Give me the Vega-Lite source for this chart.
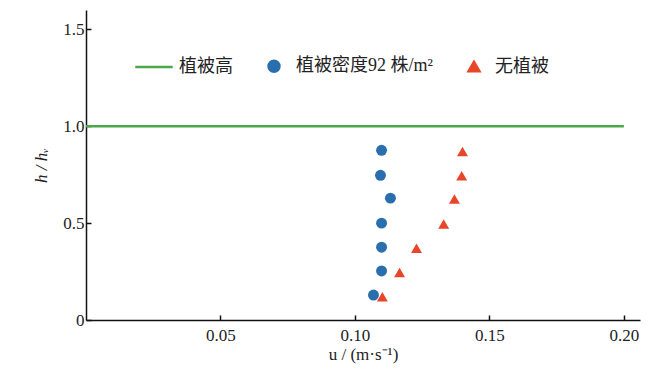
{
  "$schema": "https://vega.github.io/schema/vega-lite/v6.json",
  "width": 554,
  "height": 310,
  "autosize": "none",
  "padding": {"left": 86, "top": 10, "right": 10, "bottom": 57},
  "background": "white",
  "config": {
    "view": {"stroke": null},
    "font": "Liberation Serif",
    "axis": {"grid": false, "domainColor": "#111", "domainWidth": 1.5, "tickColor": "#111", "tickWidth": 1.5, "tickSize": -5, "labelFont": "Liberation Serif", "labelFontSize": 17, "labelColor": "#222", "titleFont": "Liberation Serif", "titleFontSize": 17, "titleFontWeight": "normal", "titleColor": "#222"}
  },
  "data": {"values": [
    {"series": "植被高", "u": 0, "u2": 0.2, "h": 1.0},
    {"series": "植被密度92 株/m²", "u": 0.1099, "h": 0.876},
    {"series": "植被密度92 株/m²", "u": 0.1095, "h": 0.747},
    {"series": "植被密度92 株/m²", "u": 0.1132, "h": 0.629},
    {"series": "植被密度92 株/m²", "u": 0.1099, "h": 0.5},
    {"series": "植被密度92 株/m²", "u": 0.1099, "h": 0.376},
    {"series": "植被密度92 株/m²", "u": 0.1099, "h": 0.253},
    {"series": "植被密度92 株/m²", "u": 0.1069, "h": 0.129},
    {"series": "无植被", "u": 0.1400, "h": 0.87},
    {"series": "无植被", "u": 0.1397, "h": 0.745},
    {"series": "无植被", "u": 0.1370, "h": 0.625},
    {"series": "无植被", "u": 0.1330, "h": 0.495},
    {"series": "无植被", "u": 0.1229, "h": 0.37},
    {"series": "无植被", "u": 0.1166, "h": 0.245},
    {"series": "无植被", "u": 0.1102, "h": 0.12}
  ]},
  "encoding": {
    "x": {"field": "u", "type": "quantitative", "scale": {"domain": [0, 0.206], "nice": false, "zero": false},
      "axis": {"values": [0.05, 0.1, 0.15, 0.2], "format": ".2f", "title": "u / (m·s⁻¹)", "titlePadding": 3, "labelPadding": 12}},
    "y": {"field": "h", "type": "quantitative", "scale": {"domain": [0, 1.6], "nice": false},
      "axis": {"values": [0, 0.5, 1, 1.5], "labelExpr": "datum.value == 0 ? '0' : format(datum.value, '.1f')", "title": "h / hᵥ", "titleFontStyle": "italic", "titlePadding": 12, "labelPadding": 7}},
    "color": {"field": "series", "type": "nominal",
      "scale": {"domain": ["植被高", "植被密度92 株/m²", "无植被"], "range": ["#4aa84a", "#2a6fad", "#e8462a"]},
      "legend": {"orient": "none", "legendX": 65, "legendY": 47, "direction": "horizontal", "title": null,
        "labelFont": "Liberation Serif, Noto Sans CJK SC, serif", "labelFontSize": 18, "labelColor": "#222", "columnPadding": 30, "symbolSize": 130, "labelOffset": 10,
        "encode": {
          "symbols": {"update": {"stroke": {"scale": "color", "field": "value"}, "strokeWidth": {"value": 2.5},
            "size": {"signal": "datum.value === '植被高' ? 1400 : 120"},
            "x": {"signal": "datum.value === '植被高' ? 3 : (datum.value === '无植被' ? 10 : 6)"}}},
          "labels": {"update": {"dx": {"signal": "datum.value === '无植被' ? 3 : 0"}}}}}},
    "shape": {"field": "series", "type": "nominal",
      "scale": {"domain": ["植被高", "植被密度92 株/m²", "无植被"], "range": ["stroke", "circle", "triangle-up"]}}
  },
  "layer": [
    {"transform": [{"filter": "datum.series == '植被高'"}],
      "mark": {"type": "rule", "strokeWidth": 2.5},
      "encoding": {"x2": {"field": "u2"}}},
    {"transform": [{"filter": "datum.series != '植被高'"}],
      "mark": {"type": "point", "filled": true, "opacity": 1, "size": 120}}
  ]
}
